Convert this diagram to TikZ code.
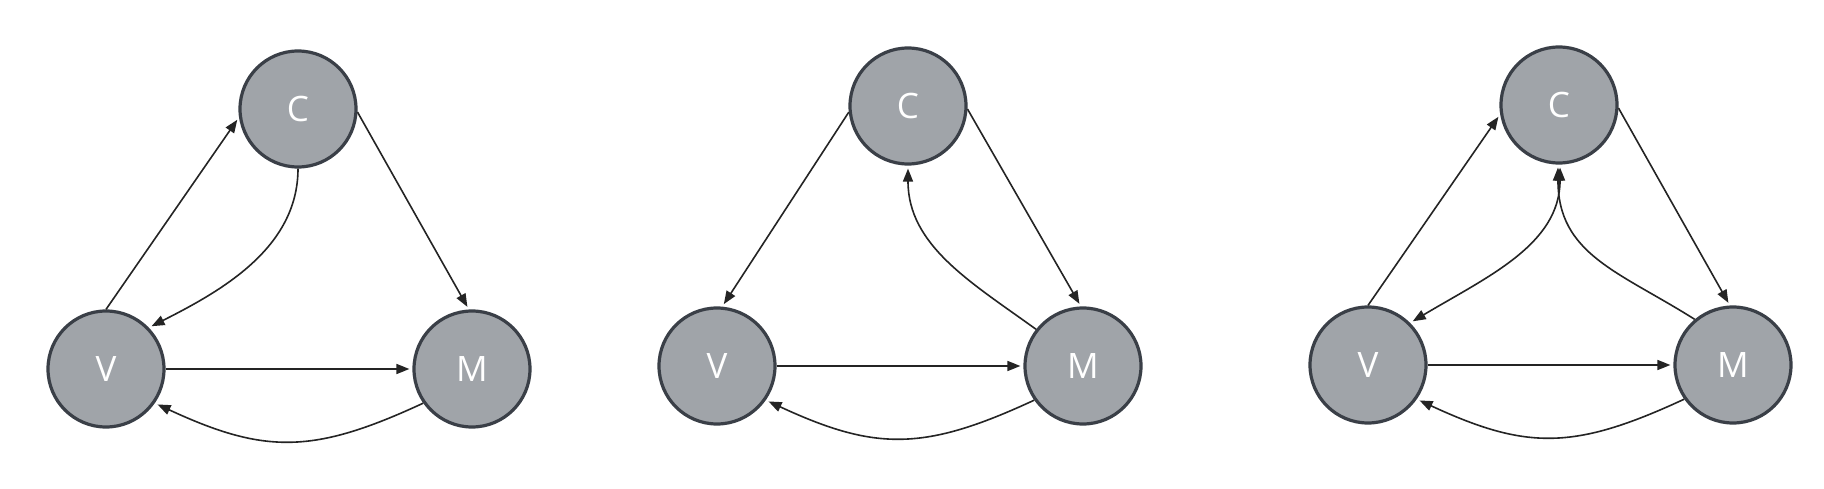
\documentclass[tikz,border=0pt]{standalone}
\usepackage{fontspec}
\setmainfont{Open Sans}
\usetikzlibrary{arrows.meta}
\definecolor{nodefill}{HTML}{A0A4A9}
\definecolor{nodeedge}{HTML}{3A3F47}
\definecolor{edgecol}{HTML}{242424}
\tikzset{
  mvc/.style={circle, draw=nodeedge, fill=nodefill, line width=3.2pt, minimum size=116pt, inner sep=0pt,
    text=white, font=\fontsize{35}{35}\selectfont},
  link/.style={draw=edgecol, line width=1.6pt, -{Triangle[length=13pt,width=10pt]}, shorten >=3pt},
  biline/.style={draw=edgecol, line width=1.6pt, {Triangle[length=13pt,width=10pt]}-{Triangle[length=13pt,width=10pt]}, shorten >=3pt, shorten <=3pt}
}
\begin{document}
\begin{tikzpicture}[x=1pt,y=-1pt]
\useasboundingbox[fill=white] (0,0) rectangle (1824,489);
% diagram 1
\node[mvc] (C1) at (298,109) {C};
\node[mvc] (V1) at (106,369) {V};
\node[mvc] (M1) at (472,369) {M};
\draw[link] (V1.90) -- (C1.188);
\draw[link] (C1.-3) -- (M1.93);
\draw[link] (V1.east) -- (M1.west);
\draw[link] (C1.south) .. controls +(0,80) and +(71,-36) .. (V1.44);
\draw[link] (M1.215) .. controls +(-110,51) and +(110,51) .. (V1.-35);
% diagram 2
\node[mvc] (C2) at (908,106) {C};
\node[mvc] (V2) at (717,366) {V};
\node[mvc] (M2) at (1083,366) {M};
\draw[link] (C2.186) -- (V2.85);
\draw[link] (C2.-3) -- (M2.92);
\draw[link] (V2.east) -- (M2.west);
\draw[link] (M2.142) .. controls +(-65,-47) and +(0,80) .. (C2.south);
\draw[link] (M2.215) .. controls +(-110,51) and +(110,51) .. (V2.-35);
% diagram 3
\node[mvc] (C3) at (1559,105) {C};
\node[mvc] (V3) at (1368,365) {V};
\node[mvc] (M3) at (1733,365) {M};
\draw[link] (V3.90) -- (C3.189);
\draw[link] (C3.-3) -- (M3.93);
\draw[link] (V3.east) -- (M3.west);
\draw[biline] (C3.271) .. controls +(0,80) and +(77,-46) .. (V3.45);
\draw[link] (M3.130) .. controls +(-76,-48) and +(0,90) .. (C3.269);
\draw[link] (M3.215) .. controls +(-110,51) and +(110,51) .. (V3.-35);
\end{tikzpicture}
\end{document}
